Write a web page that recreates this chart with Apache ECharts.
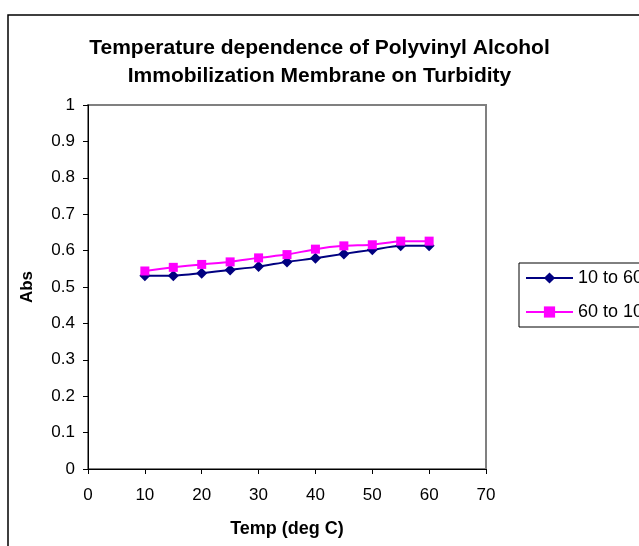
<!DOCTYPE html>
<html>
<head>
<meta charset="utf-8">
<script src="https://cdn.jsdelivr.net/npm/echarts@6/dist/echarts.min.js"></script>
<style>
  html, body { margin: 0; padding: 0; background: #ffffff; }
  #chart { width: 639px; height: 546px; }
</style>
</head>
<body>
<div id="chart"></div>
<script>
// Temperature (deg C) at which absorbance was read
const temps = [10, 15, 20, 25, 30, 35, 40, 45, 50, 55, 60];
// Heating run, 10 -> 60 deg C
const absHeating = [0.531, 0.531, 0.538, 0.547, 0.556, 0.569, 0.579, 0.591, 0.602, 0.613, 0.613];
// Cooling run, 60 -> 10 deg C
const absCooling = [0.544, 0.554, 0.562, 0.569, 0.580, 0.589, 0.604, 0.613, 0.616, 0.626, 0.626];
const seriesNames = ['10 to 60', '60 to 10'];

const FONT = "'Liberation Sans', Arial, sans-serif";

function pairs(xs, ys) {
  return xs.map((x, i) => [x, ys[i]]);
}

const chart = echarts.init(document.getElementById('chart'), null, { renderer: 'canvas' });

chart.setOption({
  animation: false,
  backgroundColor: '#ffffff',
  textStyle: { fontFamily: FONT },
  title: {
    text: 'Temperature dependence of Polyvinyl Alcohol\nImmobilization Membrane on Turbidity',
    left: 'center',
    top: 29,
    textStyle: {
      fontFamily: FONT,
      fontSize: 21,
      fontWeight: 'bold',
      color: '#000000',
      lineHeight: 28
    }
  },
  graphic: [
    {
      type: 'rect',
      shape: { x: 8, y: 15, width: 700, height: 600 },
      style: { fill: null, stroke: '#000000', lineWidth: 1.5 },
      silent: true,
      z: -10
    }
  ],
  legend: {
    orient: 'vertical',
    left: 519,
    top: 263,
    padding: [6, 6, 6, 6],
    itemWidth: 47,
    itemHeight: 14,
    itemGap: 16,
    borderColor: '#000000',
    borderWidth: 1,
    textStyle: { fontFamily: FONT, fontSize: 18, color: '#000000', lineHeight: 16 },
    data: seriesNames
  },
  grid: {
    left: 88,
    top: 105,
    width: 398,
    height: 364,
    show: true,
    borderColor: '#808080',
    borderWidth: 2,
    backgroundColor: '#ffffff'
  },
  xAxis: {
    type: 'value',
    min: 0,
    max: 70,
    interval: 10,
    name: 'Temp (deg C)',
    nameLocation: 'middle',
    nameGap: 51,
    nameTextStyle: { fontFamily: FONT, fontSize: 18, fontWeight: 'bold', color: '#000000' },
    axisLine: { show: true, onZero: false, lineStyle: { color: '#000000', width: 1 } },
    axisTick: { show: true, inside: false, length: 5, lineStyle: { color: '#000000' } },
    axisLabel: { margin: 18, fontFamily: FONT, fontSize: 17, color: '#000000' },
    splitLine: { show: false }
  },
  yAxis: {
    type: 'value',
    min: 0,
    max: 1,
    interval: 0.1,
    name: 'Abs',
    nameLocation: 'middle',
    nameRotate: 90,
    nameGap: 52,
    nameTextStyle: { fontFamily: FONT, fontSize: 17, fontWeight: 'bold', color: '#000000' },
    axisLine: { show: true, onZero: false, lineStyle: { color: '#000000', width: 1 } },
    axisTick: { show: true, inside: false, length: 5, lineStyle: { color: '#000000' } },
    axisLabel: {
      margin: 13,
      fontFamily: FONT,
      fontSize: 17,
      color: '#000000',
      formatter: v => String(Math.round(v * 10) / 10)
    },
    splitLine: { show: false }
  },
  series: [
    {
      name: seriesNames[0],
      type: 'line',
      data: pairs(temps, absHeating),
      smooth: 0.2,
      symbol: 'diamond',
      symbolSize: 11,
      lineStyle: { color: '#000080', width: 2 },
      itemStyle: { color: '#000080' },
      z: 2
    },
    {
      name: seriesNames[1],
      type: 'line',
      data: pairs(temps, absCooling),
      smooth: 0.2,
      symbol: 'rect',
      symbolSize: 9,
      lineStyle: { color: '#ff00ff', width: 2 },
      itemStyle: { color: '#ff00ff' },
      z: 3
    }
  ]
});
</script>
</body>
</html>
